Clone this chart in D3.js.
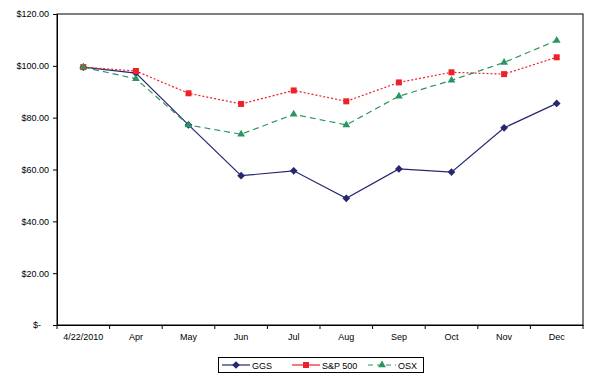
<!DOCTYPE html>
<html><head><meta charset="utf-8">
<script src="https://cdn.jsdelivr.net/npm/d3@7/dist/d3.min.js"></script>
<style>body{margin:0;background:#fff;} text{font-family:"Liberation Sans",Arial,sans-serif;}</style>
</head><body><svg id="c" width="606" height="379"></svg>
<script>
const categories = ["4/22/2010","Apr","May","Jun","Jul","Aug","Sep","Oct","Nov","Dec"];
const ggs = [99.5, 97.2, 77.2, 57.6, 59.5, 48.9, 60.2, 59.0, 76.1, 85.5];
const sp500 = [99.5, 98.0, 89.4, 85.3, 90.5, 86.3, 93.6, 97.5, 96.8, 103.3];
const osx = [99.5, 95.0, 77.2, 73.6, 81.3, 77.2, 88.3, 94.4, 101.3, 109.8];
const yTicks = [0, 20, 40, 60, 80, 100, 120];
const seriesNames = ["GGS", "S&P 500", "OSX"];

const svg = d3.select("#c");
const L = 57, R = 583, T = 14, B = 325;
const x = d3.scaleBand().domain(categories).range([L, R]);
const y = d3.scaleLinear().domain([0, 120]).range([B, T]);

const fmt = v => v === 0 ? "$-" : "$" + v.toFixed(2);

// frame
svg.append("rect").attr("x", L).attr("y", T).attr("width", R - L).attr("height", B - T)
  .attr("fill", "none").attr("stroke", "#000").attr("stroke-width", 1);

// y axis
const ya = svg.append("g").attr("transform", `translate(${L},0)`)
  .call(d3.axisLeft(y).tickValues(yTicks).tickSize(4).tickPadding(4).tickFormat(fmt));
ya.select(".domain").attr("stroke", "#000");
ya.selectAll("text").attr("font-size", 9).attr("fill", "#000")
  .attr("x", d => d === 0 ? -16 : -8);

// x axis
const xa = svg.append("g").attr("transform", `translate(0,${B})`)
  .call(d3.axisBottom(x).tickSize(0).tickPadding(9));
xa.select(".domain").attr("stroke", "#000");
xa.selectAll("text").attr("font-size", 9).attr("fill", "#000");
const bounds = categories.map(c => x(c)).concat([R]);
svg.append("g").selectAll("line").data(bounds).join("line")
  .attr("x1", d => d).attr("x2", d => d).attr("y1", B).attr("y2", B + 4)
  .attr("stroke", "#000");

const series = [
  {name: seriesNames[0], vals: ggs, color: "#262671", dash: null, sym: d3.symbolSquare, size: 30, rot: 45},
  {name: seriesNames[1], vals: sp500, color: "#ee2028", dash: "2,2", sym: d3.symbolSquare, size: 36, rot: 0},
  {name: seriesNames[2], vals: osx, color: "#2a9560", dash: "6,4", sym: d3.symbolTriangle, size: 26, rot: 0}
];
const cx = c => x(c) + x.bandwidth() / 2;
const line = d3.line().x((d, i) => cx(categories[i])).y(d => y(d));

series.forEach(s => {
  svg.append("path").datum(s.vals).attr("d", line).attr("fill", "none")
    .attr("stroke", s.color).attr("stroke-width", 1.2)
    .attr("stroke-dasharray", s.dash);
});
series.forEach(s => {
  svg.append("g").selectAll("path").data(s.vals).join("path")
    .attr("transform", (d, i) => `translate(${cx(categories[i])},${y(d)}) rotate(${s.rot})`)
    .attr("d", d3.symbol().type(s.sym).size(s.size)).attr("fill", s.color);
});

// legend
const lg = svg.append("g");
lg.append("rect").attr("x", 218.5).attr("y", 357.5).attr("width", 205).attr("height", 15)
  .attr("fill", "#fff").attr("stroke", "#000");
const lx = [222, 292, 368];
series.forEach((s, i) => {
  const g = lg.append("g").attr("transform", `translate(${lx[i]},365)`);
  g.append("line").attr("x1", 0).attr("x2", 28).attr("stroke", s.color).attr("stroke-width", 1.2)
    .attr("stroke-dasharray", s.dash === "6,4" ? "5,4" : null);
  g.append("path").attr("transform", `translate(14,0) rotate(${s.rot})`)
    .attr("d", d3.symbol().type(s.sym).size(s.size)).attr("fill", s.color);
  g.append("text").attr("x", 30).attr("y", 3.5).attr("font-size", 9).text(s.name);
});
</script></body></html>
